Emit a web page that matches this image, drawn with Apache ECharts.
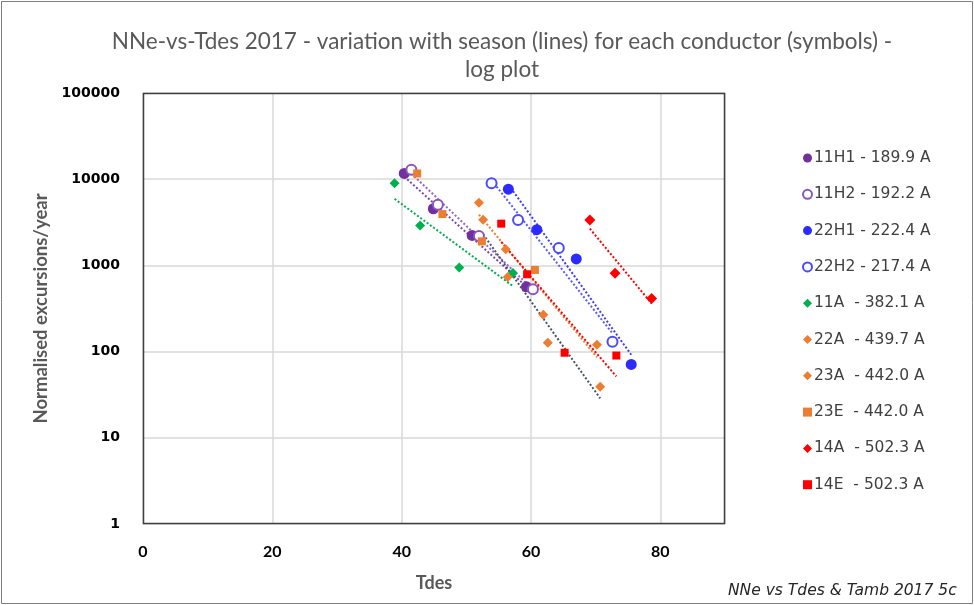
<!DOCTYPE html>
<html><head><meta charset="utf-8">
<script src="https://cdn.jsdelivr.net/npm/echarts@6/dist/echarts.min.js"></script>
<style>html,body{margin:0;padding:0;background:#fff}#c{width:974px;height:605px}</style>
</head><body><div id="c"></div>
<script>
// ---- data (Tdes, normalised excursions/year) ----
const names = ['11H1 - 189.9 A','11H2 - 192.2 A','22H1 - 222.4 A','22H2 - 217.4 A','11A  - 382.1 A','22A  - 439.7 A','23A  - 442.0 A','23E  - 442.0 A','14A  - 502.3 A','14E  - 502.3 A'];
const s11H1 = [[40.4,11650],[44.9,4540],[50.9,2230],[59.3,564]];
const s11H2 = [[41.5,12850],[45.6,5060],[51.95,2190],[60.3,530]];
const s22H1 = [[56.5,7670],[60.9,2600],[67.0,1190],[75.5,71]];
const s22H2 = [[53.9,9000],[58.0,3360],[64.3,1590],[72.6,130]];
const s11A  = [[38.9,9000],[42.85,2910],[48.9,944],[57.2,818]];
const s22A  = [[51.95,5330],[56.1,1540],[61.9,267],[70.2,120]];
const s23A  = [[52.6,3390],[56.4,736],[62.6,127],[70.7,39]];
const s23E  = [[42.4,11650],[46.3,3940],[52.4,1900],[60.6,886]];
const s14A  = [[69.1,3360],[73.0,811],[78.65,413]];
const s14E  = [[55.4,3050],[59.4,789],[65.2,97],[73.2,90]];
// trend lines (end points)
const t11H1 = [[40.4,10700],[59.3,568]];
const t11H2 = [[41.5,11640],[60.3,527]];
const t22H1 = [[56.5,8650],[75.5,92]];
const t22H2 = [[53.9,9720],[72.6,163]];
const t11A  = [[38.9,5920],[57.2,576]];
const t22A  = [[51.95,3890],[70.2,86]];
const t23A  = [[52.6,2300],[70.7,28.7]];
const t14A  = [[69.1,2670],[78.65,361]];
const t14E  = [[55.4,1875],[73.2,51.5]];
const xTicks = [0,20,40,60,80];
const yTicks = [1,10,100,1000,10000,100000];

const PUR='#7030A0', BLU='#2B2BFF', GRN='#00B050', ORG='#ED7D31', RED='#FF0000', DRK='#44546A';
const pts = [
  {d:s11H1, sym:'circle', size:11, c:PUR},
  {d:s11H2, sym:'emptyCircle', size:10, c:'#8A55BF'},
  {d:s22H1, sym:'circle', size:11, c:BLU},
  {d:s22H2, sym:'emptyCircle', size:10, c:'#4A4AFF'},
  {d:s11A, sym:'diamond', size:10, c:GRN},
  {d:s22A, sym:'diamond', size:10, c:ORG},
  {d:s23A, sym:'diamond', size:10, c:ORG},
  {d:s23E, sym:'rect', size:8, c:ORG},
  {d:s14A, sym:'diamond', size:11, c:RED},
  {d:s14E, sym:'rect', size:8, c:RED}
];
const trends = [
  {d:t11H1,c:'#7A45B0'},{d:t11H2,c:'#9466C8'},{d:t22H1,c:'#3C3CFF'},{d:t22H2,c:'#5A5AFF'},
  {d:t11A,c:GRN},{d:t22A,c:ORG},{d:t23A,c:DRK},{d:t14A,c:RED},{d:t14E,c:RED}
];
const series = [];
trends.forEach((t,i)=>series.push({type:'line',name:'trend'+i,data:t.d,symbol:'none',silent:true,
  lineStyle:{color:t.c,width:2,type:[2,2]},z:2}));
pts.forEach((p,i)=>series.push({type:'scatter',name:names[i],data:p.d,symbol:p.sym,symbolSize:p.size,
  itemStyle:{color:p.c,borderColor:p.c,opacity:1,borderWidth:p.sym==='emptyCircle'?1.5:0},z:3}));

const chart = echarts.init(document.getElementById('c'),null,{renderer:'canvas'});
chart.setOption({
  animation:false,
  backgroundColor:'#fff',
  title:{text:'NNe-vs-Tdes 2017 - variation with season (lines) for each conductor (symbols) -\nlog plot',
    left:497, top:23, textAlign:'center',
    textStyle:{fontFamily:'Lato',fontSize:22.5,fontWeight:'normal',color:'#595959',lineHeight:28}},
  grid:{left:143,top:93,width:582,height:431,show:false},
  legend:{orient:'vertical',left:797,top:145,itemWidth:9,itemHeight:9,itemGap:20.3,
    data:names.map((n,i)=>({name:n,icon:pts[i].sym})),
    textStyle:{fontFamily:'DejaVu Sans',fontSize:15.5,color:'#404040',lineHeight:16,padding:[0,0,0,-3]}},
  xAxis:{type:'value',min:0,max:90,interval:20,name:'Tdes',nameLocation:'middle',nameGap:50,
    nameTextStyle:{fontFamily:'Lato',fontSize:18,fontWeight:'bold',color:'#595959'},
    axisLine:{show:false},axisTick:{show:false},
    axisLabel:{margin:20,fontFamily:'Lato',fontSize:16,fontWeight:'bold',color:'#000',
      formatter:v=>xTicks.includes(v)?String(v):''},
    splitLine:{show:true,lineStyle:{color:'#D9D9D9',width:1.5}}},
  yAxis:{type:'log',logBase:10,min:1,max:100000,name:'Normalised excursions/year',nameLocation:'middle',nameGap:88,
    nameTextStyle:{fontFamily:'Lato',fontSize:18.5,fontWeight:'bold',color:'#595959'},
    axisLine:{show:false},axisTick:{show:false},
    axisLabel:{margin:23,fontFamily:'DejaVu Sans',fontSize:14,fontWeight:'bold',color:'#000',
      formatter:v=>{const r=Math.round(v);return yTicks.includes(r)?String(r):'';}},
    splitLine:{show:true,lineStyle:{color:'#D9D9D9',width:1.5}}},
  graphic:[
    {type:'rect',shape:{x:1.5,y:1.5,width:971,height:602},style:{fill:'none',stroke:'#7F7F7F',lineWidth:1},silent:true},
    {type:'rect',shape:{x:143.5,y:93.5,width:581,height:430},style:{fill:'none',stroke:'#404040',lineWidth:1.5},silent:true,z:10},
    {type:'text',left:728,top:583,style:{text:'NNe vs Tdes & Tamb 2017 5c',fontFamily:'DejaVu Sans',fontStyle:'italic',fontSize:15.5,fill:'#262626'}}
  ],
  series:series
});
</script></body></html>
